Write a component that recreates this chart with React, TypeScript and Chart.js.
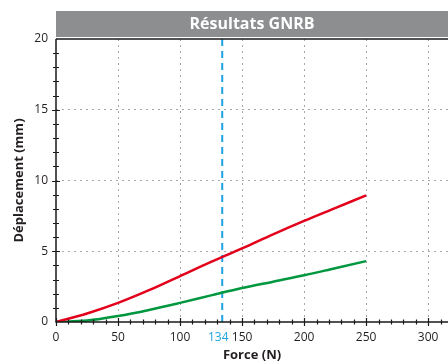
import React, { useEffect, useRef } from "react";
import { Chart, registerables } from "chart.js";

Chart.register(...registerables);

const TITLE = "Résultats GNRB";
const X_TITLE = "Force (N)";
const Y_TITLE = "Déplacement (mm)";
const forceValues = [0, 25, 50, 75, 100, 125, 150, 175, 200, 225, 250];
const redValues = [0, 0.6, 1.35, 2.25, 3.25, 4.25, 5.2, 6.2, 7.15, 8.05, 8.95];
const greenValues = [0, 0.1, 0.42, 0.85, 1.35, 1.88, 2.4, 2.85, 3.3, 3.8, 4.3];
const markerForce = 134;
const markerRange = [0, 20];
const xMajorTicks = [0, 50, 100, 150, 200, 250, 300];
const yMajorTicks = [0, 5, 10, 15, 20];
const X_MAX = 316;

const FONT = "'Open Sans', 'Noto Sans', sans-serif";
const TEXT = "#231f20";
const BLUE = "#1fa2e1";

const decorPlugin = {
  id: "decor",
  beforeDraw(chart: any) {
    const { ctx, chartArea, width } = chart;
    ctx.save();
    ctx.fillStyle = "#8c8e90";
    ctx.fillRect(chartArea.left, 11, width - chartArea.left, 26);
    ctx.fillStyle = "#ffffff";
    ctx.font = `bold 16px ${FONT}`;
    ctx.textAlign = "center";
    ctx.textBaseline = "middle";
    ctx.fillText(TITLE, (chartArea.left + width) / 2, 24.5);
    ctx.restore();
  },
  afterDraw(chart: any) {
    const { ctx, chartArea } = chart;
    const xs = chart.scales.x;
    const ys = chart.scales.y;
    ctx.save();
    ctx.strokeStyle = "#1a1a1a";
    ctx.lineWidth = 1.5;
    ctx.beginPath();
    ctx.moveTo(chartArea.left, chartArea.top);
    ctx.lineTo(chartArea.right, chartArea.top);
    ctx.moveTo(chartArea.left, chartArea.top);
    ctx.lineTo(chartArea.left, chartArea.bottom);
    ctx.lineTo(chartArea.right, chartArea.bottom);
    ctx.stroke();
    ctx.lineWidth = 1.2;
    ctx.beginPath();
    for (let v = 0; v <= X_MAX; v += 10) {
      const px = Math.round(xs.getPixelForValue(v)) + 0.5;
      const major = v % 50 === 0;
      ctx.moveTo(px, chartArea.bottom - (major ? 4 : 2.5));
      ctx.lineTo(px, chartArea.bottom + (major ? 4 : 2.5));
    }
    for (let v = 1; v < 20; v += 1) {
      const py = Math.round(ys.getPixelForValue(v)) + 0.5;
      const major = v % 5 === 0;
      ctx.moveTo(chartArea.left - (major ? 4 : 3), py);
      ctx.lineTo(chartArea.left + (major ? 4 : 3), py);
    }
    ctx.stroke();
    // marker value label, set slightly left of its line as in the original
    ctx.fillStyle = BLUE;
    ctx.font = `12px ${FONT}`;
    ctx.textAlign = "center";
    ctx.textBaseline = "middle";
    ctx.fillText(String(markerForce), xs.getPixelForValue(markerForce) - 4, chartArea.bottom + 15.5);
    ctx.restore();
  },
};

export default function App() {
  const ref = useRef<HTMLCanvasElement>(null);
  useEffect(() => {
    const chart = new Chart(ref.current!, {
      type: "line",
      data: {
        datasets: [
          {
            label: "red",
            data: forceValues.map((x, i) => ({ x, y: redValues[i] })),
            borderColor: "#e3001b",
            borderWidth: 2.5,
            pointRadius: 0,
            cubicInterpolationMode: "monotone",
          },
          {
            label: "green",
            data: forceValues.map((x, i) => ({ x, y: greenValues[i] })),
            borderColor: "#00973f",
            borderWidth: 2.5,
            pointRadius: 0,
            cubicInterpolationMode: "monotone",
          },
          {
            label: "marker",
            data: markerRange.map((y) => ({ x: markerForce, y })),
            borderColor: BLUE,
            borderWidth: 2,
            borderDash: [7, 5],
            pointRadius: 0,
          },
        ],
      },
      options: {
        responsive: false,
        animation: false,
        layout: { padding: { top: 39, right: 0, left: 0, bottom: 0 } },
        plugins: {
          legend: { display: false },
          title: { display: false },
          tooltip: { enabled: false },
        },
        scales: {
          x: {
            type: "linear",
            min: 0,
            max: X_MAX,
            afterBuildTicks: (scale: any) => {
              scale.ticks = xMajorTicks.map((value) => ({ value }));
            },
            afterFit: (scale: any) => {
              scale.height = 41;
            },
            border: { display: false, dash: [2, 4] },
            grid: {
              color: (c: any) =>
                c.tick && c.tick.value !== 0 ? "#a8a8a8" : "rgba(0,0,0,0)",
              lineWidth: 1,
              tickLength: 6,
              tickColor: "rgba(0,0,0,0)",
            },
            ticks: {
              autoSkip: false,
              maxRotation: 0,
              padding: 2,
              color: TEXT,
              font: { family: FONT, size: 12 },
              callback: (v: any) => String(v),
            },
            title: {
              display: true,
              text: X_TITLE,
              color: TEXT,
              font: { family: FONT, size: 13, weight: "bold" },
              padding: { top: 0, bottom: 0 },
            },
          },
          y: {
            type: "linear",
            min: 0,
            max: 20,
            afterBuildTicks: (scale: any) => {
              scale.ticks = yMajorTicks.map((value) => ({ value }));
            },
            afterFit: (scale: any) => {
              scale.width = 56;
            },
            border: { display: false, dash: [2, 4] },
            grid: {
              color: (c: any) =>
                c.tick && c.tick.value !== 0 && c.tick.value !== 20
                  ? "#a8a8a8"
                  : "rgba(0,0,0,0)",
              tickLength: 6,
              tickColor: "rgba(0,0,0,0)",
            },
            ticks: {
              color: TEXT,
              padding: 2,
              font: { family: FONT, size: 12 },
            },
            title: {
              display: true,
              text: Y_TITLE,
              color: TEXT,
              font: { family: FONT, size: 13, weight: "bold" },
              padding: { top: 11, bottom: 0 },
            },
          },
        },
      },
      plugins: [decorPlugin],
    } as any);
    return () => chart.destroy();
  }, []);
  return (
    <div style={{ position: "fixed", left: 0, top: 0, width: 448, height: 363, background: "#fff" }}>
      <canvas ref={ref} width={448} height={363} style={{ display: "block" }} />
    </div>
  );
}
